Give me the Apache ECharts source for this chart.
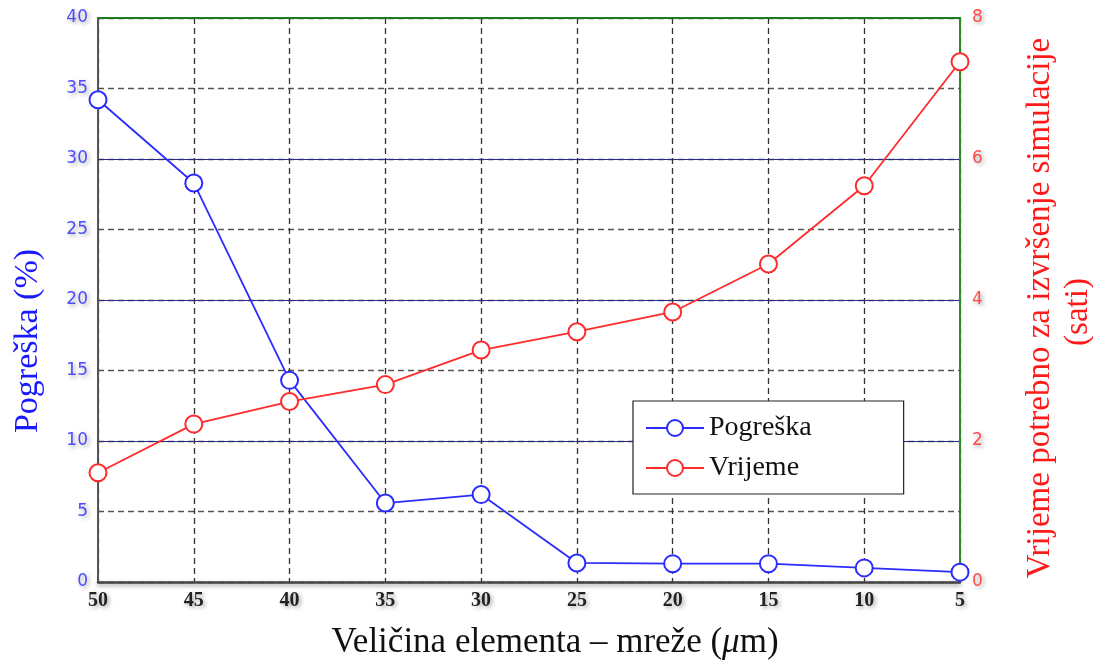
<!DOCTYPE html>
<html><head><meta charset="utf-8">
<script src="https://cdn.jsdelivr.net/npm/echarts@6/dist/echarts.min.js"></script>
<style>html,body{margin:0;padding:0;background:#fff}#c{width:1093px;height:664px}</style>
</head><body><div id="c"></div>
<script>
var sizes = [50, 45, 40, 35, 30, 25, 20, 15, 10, 5];
var pogreska = [34.2, 28.3, 14.3, 5.6, 6.2, 1.35, 1.3, 1.3, 1.0, 0.7];
var vrijeme = [1.55, 2.24, 2.56, 2.8, 3.29, 3.55, 3.83, 4.51, 5.62, 7.38];
var leftTicks = [0, 40, 5];
var rightTicks = [0, 8, 2];
var xTitle = 'Veličina elementa – mreže (';
var leftTitle = 'Pogreška (%)';
var rightTitle1 = 'Vrijeme potrebno za izvršenje simulacije';
var rightTitle2 = '(sati)';

var chart = echarts.init(document.getElementById('c'));
var shadow = {textShadowColor:'rgba(0,0,0,0.35)', textShadowBlur:4, textShadowOffsetX:2, textShadowOffsetY:2};
chart.setOption({
  animation:false,
  grid:{left:98, right:133, top:18, bottom:82},
  legend:{
    left:633, top:401,
    orient:'vertical', backgroundColor:'#fff', borderColor:'#222', borderWidth:1.2,
    padding:[13,92,12,12], itemGap:12, itemWidth:58, itemHeight:20,
    textStyle:{fontFamily:'Liberation Serif', fontSize:28, color:'#111'},
    data:['Pogreška','Vrijeme']
  },
  graphic:[
    {type:'text', x:555, y:643, style:{
      text:xTitle + '{i|μ}m)', font:'35px "Liberation Serif"', fill:'#111',
      textAlign:'center', textVerticalAlign:'middle',
      rich:{i:{fontFamily:'Liberation Serif', fontStyle:'italic', fontSize:35, fill:'#111'}}
    }},
    {type:'text', x:28, y:341, rotation:Math.PI/2, style:{
      text:leftTitle, font:'34px "Liberation Serif"', fill:'#1a1aff',
      textAlign:'center', textVerticalAlign:'middle'}},
    {type:'text', x:1040, y:308, rotation:Math.PI/2, style:{
      text:rightTitle1, font:'33px "Liberation Serif"', fill:'#ff1a1a',
      textAlign:'center', textVerticalAlign:'middle'}},
    {type:'text', x:1078, y:312, rotation:Math.PI/2, style:{
      text:rightTitle2, font:'33px "Liberation Serif"', fill:'#ff1a1a',
      textAlign:'center', textVerticalAlign:'middle'}}
  ],
  xAxis:[{
    type:'value', inverse:true, min:5, max:50, interval:5,
    axisLine:{onZero:false, lineStyle:{color:'#444', width:2.5, shadowColor:'rgba(0,0,0,0.4)', shadowBlur:4, shadowOffsetY:2}},
    axisTick:{show:false},
    axisLabel:Object.assign({fontFamily:'Liberation Serif', fontSize:20, fontWeight:'bold', color:'#222', margin:9}, shadow),
    splitLine:{show:true, lineStyle:{color:'#333', type:[6,4], width:1.3}}
  },{
    type:'value', position:'top', inverse:true, min:5, max:50, interval:5,
    axisLine:{onZero:false, lineStyle:{color:'#1e7a1e', width:2}}, axisTick:{show:false},
    axisLabel:{show:false}, splitLine:{show:false}
  }],
  yAxis:[{
    type:'value', min:leftTicks[0], max:leftTicks[1], interval:leftTicks[2],
    axisLine:{show:true, onZero:false, lineStyle:{color:'#555', width:2}},
    axisTick:{show:false},
    axisLabel:Object.assign({fontFamily:'DejaVu Sans', fontSize:17, color:'#4d4dff', margin:10}, shadow),
    splitLine:{show:true, lineStyle:{color:'#555', type:[6,4], width:1.3}}
  },{
    type:'value', min:rightTicks[0], max:rightTicks[1], interval:rightTicks[2], position:'right',
    axisLine:{show:true, onZero:false, lineStyle:{color:'#2e8b2e', width:2}},
    axisTick:{show:false},
    axisLabel:Object.assign({fontFamily:'DejaVu Sans', fontSize:17, color:'#ff4d4d', margin:12}, shadow),
    splitLine:{show:true, lineStyle:{color:'#2a2a88', width:1.2}}
  }],
  series:[{
    name:'Pogreška', type:'line', xAxisIndex:0, yAxisIndex:0,
    data:sizes.map(function(s,i){return [s,pogreska[i]];}),
    symbol:'emptyCircle', symbolSize:17, z:5,
    lineStyle:{color:'#2b2bff', width:1.8}, itemStyle:{color:'#2b2bff', borderWidth:1.8}
  },{
    name:'Vrijeme', type:'line', xAxisIndex:0, yAxisIndex:1,
    data:sizes.map(function(s,i){return [s,vrijeme[i]];}),
    symbol:'emptyCircle', symbolSize:17, z:5,
    lineStyle:{color:'#ff2b2b', width:1.8}, itemStyle:{color:'#ff2b2b', borderWidth:1.8}
  }]
});
</script></body></html>
